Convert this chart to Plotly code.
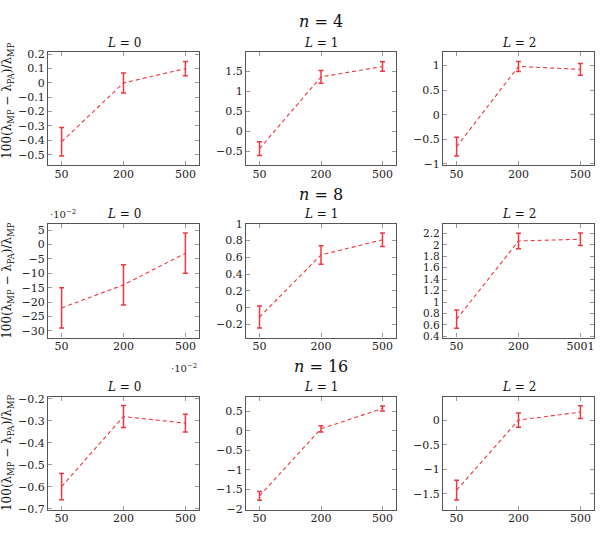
import plotly.graph_objects as go
from plotly.subplots import make_subplots

# ---- data ----
x_labels = ["50", "200", "500"]
x_labels_n8_L2 = ["50", "200", "5001"]
x_pos = [0, 1, 2]

row_titles = ["4", "8", "16"]
col_titles = ["0", "1", "2"]

n4_L0_mean = [-0.41, 0.00, 0.10]
n4_L0_err = [0.10, 0.07, 0.05]
n4_L1_mean = [-0.43, 1.36, 1.62]
n4_L1_err = [0.17, 0.16, 0.12]
n4_L2_mean = [-0.65, 0.98, 0.92]
n4_L2_err = [0.19, 0.10, 0.12]

# n = 8, L = 0 values are in units of 10^-2
n8_L0_mean = [-22.0, -14.0, -3.0]
n8_L0_err = [7.0, 7.0, 7.0]
n8_L1_mean = [-0.11, 0.63, 0.81]
n8_L1_err = [0.13, 0.11, 0.08]
n8_L2_mean = [0.70, 2.07, 2.10]
n8_L2_err = [0.16, 0.135, 0.11]

n16_L0_mean = [-0.60, -0.28, -0.31]
n16_L0_err = [0.06, 0.05, 0.04]
n16_L1_mean = [-1.67, 0.05, 0.57]
n16_L1_err = [0.11, 0.08, 0.065]
n16_L2_mean = [-1.42, 0.00, 0.16]
n16_L2_err = [0.20, 0.145, 0.13]

means = [[n4_L0_mean, n4_L1_mean, n4_L2_mean],
         [n8_L0_mean, n8_L1_mean, n8_L2_mean],
         [n16_L0_mean, n16_L1_mean, n16_L2_mean]]
errs = [[n4_L0_err, n4_L1_err, n4_L2_err],
        [n8_L0_err, n8_L1_err, n8_L2_err],
        [n16_L0_err, n16_L1_err, n16_L2_err]]

# ---- layout config ----
W, H = 600, 549
col_px = [(48, 199), (246, 396), (443, 594)]
row_px = [(46.7, 163), (222.7, 339), (399.3, 515)]
y_ranges = [[[-0.575, 0.218], [-0.85, 1.99], [-1.03, 1.28]],
            [[-32.3, 7.2], [-0.355, 1.0], [0.378, 2.37]],
            [[-0.705, -0.189], [-2.025, 0.876], [-1.82, 0.476]]]
y_dticks = [[0.1, 0.5, 0.5], [5, 0.2, 0.2], [0.1, 0.5, 0.5]]
row_title_y = [16, 193, 369]
col_title_y = [38, 213, 390]
ylabel_y = [97, 281, 457]

RED = "rgb(240,55,65)"
FONT = "DejaVu Serif"

fig = make_subplots(rows=3, cols=3)

for r in range(3):
    for c in range(3):
        fig.add_trace(go.Scatter(
            x=x_pos, y=means[r][c], mode="lines",
            line=dict(color=RED, width=1.1, dash="4px,3px"),
            error_y=dict(type="data", array=errs[r][c], visible=True,
                         color=RED, thickness=1.5, width=2.5),
            showlegend=False, hoverinfo="skip"),
            row=r + 1, col=c + 1)
        idx = r * 3 + c + 1
        xa = "xaxis" if idx == 1 else f"xaxis{idx}"
        ya = "yaxis" if idx == 1 else f"yaxis{idx}"
        x0, x1 = col_px[c]
        y0, y1 = row_px[r]
        labels = x_labels_n8_L2 if (r == 1 and c == 2) else x_labels
        fig.layout[xa].update(
            domain=[x0 / W, x1 / W], range=[-0.22, 2.22],
            tickvals=x_pos, ticktext=labels,
            ticks="inside", ticklen=4, tickcolor="#999", tickwidth=1,
            showline=True, linecolor="#555", linewidth=1.2, mirror="ticks",
            showgrid=False, zeroline=False, ticklabelstandoff=-2,
            tickfont=dict(family=FONT, size=11, color="#222"))
        fig.layout[ya].update(
            domain=[1 - y1 / H, 1 - y0 / H], range=y_ranges[r][c],
            tick0=0, dtick=y_dticks[r][c],
            ticks="inside", ticklen=4, tickcolor="#999", tickwidth=1,
            showline=True, linecolor="#555", linewidth=1.2, mirror="ticks",
            showgrid=False, zeroline=False,
            tickfont=dict(family=FONT, size=11 if not (r == 1 and c == 2) else 10.5,
                          color="#222"))

annotations = []
for r in range(3):
    annotations.append(dict(
        text=f"<i>n</i> = {row_titles[r]}",
        x=321 / W, y=1 - row_title_y[r] / H, xref="paper", yref="paper",
        showarrow=False, font=dict(family=FONT, size=16, color="#111"),
        xanchor="center", yanchor="middle"))
    for c in range(3):
        x0, x1 = col_px[c]
        annotations.append(dict(
            text=f"<i>L</i> = {col_titles[c]}",
            x=(x0 + x1) / 2 / W, y=1 - col_title_y[r] / H,
            xref="paper", yref="paper", showarrow=False,
            font=dict(family=FONT, size=12, color="#111"),
            xanchor="center", yanchor="middle"))
    annotations.append(dict(
        text="100(λ<sub>MP</sub> − λ<sub>PA</sub>)/λ<sub>MP</sub>",
        x=8 / W, y=1 - ylabel_y[r] / H, xref="paper", yref="paper",
        showarrow=False, textangle=-90,
        font=dict(family=FONT, size=12, color="#111"),
        xanchor="center", yanchor="middle"))

annotations.append(dict(
    text="·10<sup>−2</sup>", x=48 / W, y=1 - 213 / H,
    xref="paper", yref="paper", showarrow=False,
    font=dict(family=FONT, size=10, color="#222"),
    xanchor="left", yanchor="middle"))
annotations.append(dict(
    text="·10<sup>−2</sup>", x=199 / W, y=1 - 370 / H,
    xref="paper", yref="paper", showarrow=False,
    font=dict(family=FONT, size=10, color="#222"),
    xanchor="right", yanchor="middle"))

fig.update_layout(
    width=W, height=H, margin=dict(l=0, r=0, t=0, b=0),
    paper_bgcolor="white", plot_bgcolor="white",
    font=dict(family=FONT),
    annotations=annotations)

fig.write_html("out.html")
